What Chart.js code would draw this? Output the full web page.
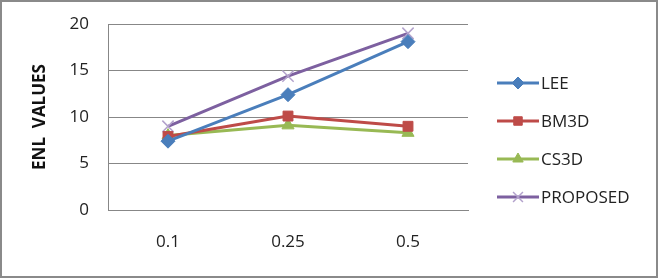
<!DOCTYPE html>
<html>
<head>
<meta charset="utf-8">
<script src="https://cdn.jsdelivr.net/npm/chart.js@4"></script>
<style>
  html, body { margin: 0; padding: 0; background: #fff; }
  #wrap { width: 658px; height: 278px; box-sizing: border-box; border: 2px solid #8a8a8a; }
  canvas { display: block; }
</style>
</head>
<body>
<div id="wrap"><canvas id="enlChart" width="654" height="274"></canvas></div>
<script>
// values
const categories = ['0.1', '0.25', '0.5'];
const lee = [7.4, 12.4, 18.1];
const bm3d = [7.9, 10.1, 9.0];
const cs3d = [8.0, 9.1, 8.3];
const proposed = [9.0, 14.4, 19.0];
const yTicks = [0, 5, 10, 15, 20];

const font = "'Open Sans', 'Liberation Sans', sans-serif";

// legend drawn by hand: line with marker in the middle, like the original
const sideLegend = {
  id: 'sideLegend',
  afterDraw(chart) {
    const ctx = chart.ctx;
    const x0 = 495, y0 = 81, gap = 38;
    chart.data.datasets.forEach((ds, i) => {
      const y = y0 + i * gap;
      ctx.save();
      ctx.strokeStyle = ds.borderColor;
      ctx.lineWidth = 3;
      ctx.beginPath();
      ctx.moveTo(x0, y);
      ctx.lineTo(x0 + 42, y);
      ctx.stroke();
      ctx.fillStyle = ds.pointBackgroundColor;
      ctx.strokeStyle = ds.pointBorderColor;
      ctx.lineWidth = ds.pointBorderWidth;
      Chart.helpers.drawPoint(ctx, {
        pointStyle: ds.pointStyle,
        radius: ds.pointRadius - 1,
        rotation: 0,
        borderWidth: ds.pointBorderWidth
      }, x0 + 21, y);
      ctx.fillStyle = '#222';
      ctx.font = '17px ' + font;
      ctx.textBaseline = 'middle';
      ctx.fillText(ds.label, x0 + 44, y + 1);
      ctx.restore();
    });
  }
};

function series(label, data, color, style, radius, extra) {
  return Object.assign({
    label: label,
    data: data,
    borderColor: color,
    backgroundColor: color,
    pointBackgroundColor: color,
    pointBorderColor: color,
    borderWidth: 3,
    pointStyle: style,
    pointRadius: radius,
    pointBorderWidth: 1,
    tension: 0
  }, extra || {});
}

const ctx = document.getElementById('enlChart').getContext('2d');
new Chart(ctx, {
  type: 'line',
  data: {
    labels: categories,
    datasets: [
      series('LEE', lee, '#4a7ebb', 'rectRot', 7),
      series('BM3D', bm3d, '#be4b48', 'rect', 7),
      series('CS3D', cs3d, '#98b954', 'triangle', 7),
      series('PROPOSED', proposed, '#7d60a0', 'crossRot', 8, { pointBorderColor: '#b3a2cc', pointBorderWidth: 1.5 })
    ]
  },
  options: {
    responsive: false,
    animation: false,
    layout: { padding: { top: 22, right: 188, left: 0, bottom: 0 } },
    plugins: {
      legend: { display: false },
      tooltip: { enabled: false }
    },
    scales: {
      x: {
        offset: true,
        grid: { display: false, drawTicks: false },
        border: { color: '#878787', width: 1 },
        ticks: { color: '#222', font: { family: font, size: 17 }, padding: 22 },
        afterFit: function (scale) { scale.height = 66; scale.paddingLeft = 0; scale.paddingRight = 0; }
      },
      y: {
        min: 0,
        max: 20,
        afterBuildTicks: function (scale) { scale.ticks = yTicks.map(v => ({ value: v })); },
        grid: { color: '#878787', drawTicks: false },
        border: { color: '#878787', width: 1 },
        ticks: { color: '#222', font: { family: font, size: 17 }, padding: 19 },
        title: {
          display: true,
          text: 'ENL  VALUES',
          color: '#111',
          font: { family: font, size: 17, weight: 'bold' },
          padding: { top: 28, bottom: 0 }
        },
        afterFit: function (scale) { scale.width = 106; scale.paddingTop = 0; scale.paddingBottom = 0; }
      }
    }
  },
  plugins: [sideLegend]
});
</script>
</body>
</html>
